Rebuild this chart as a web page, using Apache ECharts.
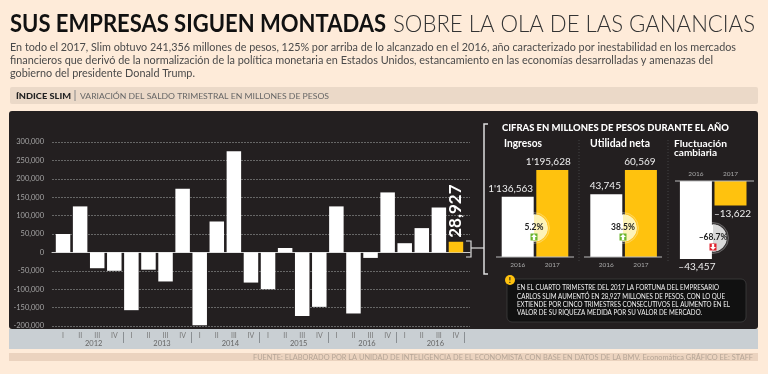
<!DOCTYPE html>
<html>
<head>
<meta charset="utf-8">
<style>
  html, body { margin: 0; padding: 0; background: #feebd9; }
  #main { width: 768px; height: 374px; }
</style>
<script src="https://cdn.jsdelivr.net/npm/echarts@6/dist/echarts.min.js"></script>
</head>
<body>
<div id="main"></div>
<script>
var quarters = ['I', 'II', 'III', 'IV', 'I', 'II', 'III', 'IV', 'I', 'II', 'III', 'IV', 'I', 'II', 'III', 'IV', 'I', 'II', 'III', 'IV', 'I', 'II', 'III', 'IV']
var years = ['2012', '2013', '2014', '2015', '2016', '2016']
var saldo = [50000, 125000, -43000, -50000, -157000, -47000, -79000, 173000, -198000, 84000, 275000, -82000, -100000, 12000, -173000, -148000, 125000, -166000, -15000, 163000, 25000, 66000, 122000, 28927]

var smallYears = ['2016', '2017']
var ingresos = [1136563, 1195628]
var utilidad = [43745, 60569]
var fluctuacion = [-43457, -13622]

var bodyLines = [
  'En todo el 2017, Slim obtuvo 241,356 millones de pesos, 125% por arriba de lo alcanzado en el 2016, año caracterizado por inestabilidad en los mercados',
  'financieros que derivó de la normalización de la política monetaria en Estados Unidos, estancamiento en las economías desarrolladas y amenazas del',
  'gobierno del presidente Donald Trump.',
]
var bodyWidths = [726, 703, 185]
var noteLines = [
  'EN EL CUARTO TRIMESTRE DEL 2017 LA FORTUNA DEL EMPRESARIO',
  'CARLOS SLIM AUMENTÓ EN 28,927 MILLONES DE PESOS, CON LO QUE',
  'EXTIENDE POR CINCO TRIMESTRES CONSECUTIVOS EL AUMENTO EN EL',
  'VALOR DE SU RIQUEZA MEDIDA POR SU VALOR DE MERCADO.',
]
var noteWidths = [202, 208, 213, 185]

var YELLOW = '#ffc20e'
var FONT = 'Lato'

var measure = document.createElement('canvas').getContext('2d')

function fmt(v) {
  var s = Math.abs(v).toString().replace(/\B(?=(\d{3})+$)/g, ',')
  // el original usa apóstrofo para los millones
  s = s.replace(/^(\d),/, "$1'")
  return (v < 0 ? '–' : '') + s
}

function rect(x, y, w, h, color, z, r) {
  return { type: 'rect', shape: { x: x, y: y, width: w, height: h, r: r || 0 }, style: { fill: color }, z: z, silent: true }
}
// w: ancho que ocupa el texto en el original, se ajusta con scaleX
function text(x, y, str, size, color, weight, extra, w) {
  var el = {
    type: 'text', x: x, y: y, z: 50, silent: true,
    style: Object.assign({ text: str, fontFamily: FONT, fontSize: size, fill: color, fontWeight: weight || 'normal', verticalAlign: 'middle' }, extra || {}),
  }
  if (w) {
    measure.font = (weight || 'normal') + ' ' + size + 'px ' + FONT
    el.scaleX = w / measure.measureText(str).width
  }
  return el
}
function path(points, color, width, dash) {
  return {
    type: 'polyline', z: 50, silent: true, shape: { points: points },
    style: { stroke: color, lineWidth: width || 1, fill: null, lineDash: dash || null },
  }
}
function badge(cx, cy, label, rightColor, iconColor, up) {
  var a = up ? -1 : 1
  var iy = cy + 9
  return [
    { type: 'circle', z: 40, silent: true, shape: { cx: cx, cy: cy, r: 15.5 }, style: { fill: 'rgba(255,255,255,0.12)', stroke: 'rgba(255,255,255,0.5)', lineWidth: 0.5 } },
    { type: 'circle', z: 41, silent: true, shape: { cx: cx, cy: cy, r: 13.5 }, style: { fill: '#fff' } },
    { type: 'sector', z: 42, silent: true, shape: { cx: cx, cy: cy, r: 13.5, r0: 0, startAngle: -Math.PI / 2, endAngle: Math.PI / 2 }, style: { fill: rightColor } },
    rect(cx - 3.5, iy - 3.5, 7, 7, iconColor, 43),
    { type: 'polygon', z: 44, silent: true, shape: { points: [[cx, iy + a * 3], [cx + 3, iy], [cx + 1.2, iy], [cx + 1.2, iy - a * 3], [cx - 1.2, iy - a * 3], [cx - 1.2, iy], [cx - 3, iy]] }, style: { fill: '#fff' } },
    text(cx, cy - 1, label, 8.5, '#222', 'bold', { align: 'center' }),
  ]
}

var background = [
  rect(10, 87, 748, 17, '#ebd9c8', -10, 2),
  rect(9, 111, 749, 218, '#231f20', -10, 3),
  rect(9, 329, 749, 20, '#c9cfd3', -10),
  rect(9, 353, 749, 8, '#ebd3bf', -10),
]

var overlay = [
  text(10, 24, 'SUS EMPRESAS SIGUEN MONTADAS', 24, '#111', 'bold', null, 376),
  text(393, 24, 'SOBRE LA OLA DE LAS GANANCIAS', 24, '#333', 300, null, 362),
  text(16, 96, 'ÍNDICE SLIM', 8, '#222', 900, null, 55),
  path([[75, 90], [75, 101]], '#888'),
  text(80, 96, 'VARIACIÓN DEL SALDO TRIMESTRAL EN MILLONES DE PESOS', 8, '#666', 'normal', null, 249),
  text(253, 357, 'FUENTE: ELABORADO POR LA UNIDAD DE INTELIGENCIA DE EL ECONOMISTA CON BASE EN DATOS DE LA BMV. Economática GRÁFICO EE: STAFF', 8, '#b5a596', 'normal', null, 500),

  // corchetes
  path([[466, 241], [471, 241], [471, 257], [466, 257]], '#ddd', 1.2),
  path([[471, 248], [484, 248]], '#ddd', 1.2),
  path([[488, 124], [484, 124], [484, 274], [488, 274]], '#ddd', 1.5),

  text(502, 128, 'CIFRAS EN MILLONES DE PESOS DURANTE EL AÑO', 9, '#fff', 900, null, 227),
  text(504, 144, 'Ingresos', 10.5, '#fff', 'bold', null, 38),
  text(590, 144, 'Utilidad neta', 10.5, '#fff', 'bold', null, 60),
  text(674, 144, 'Fluctuación', 10, '#fff', 'bold', null, 53),
  text(674, 153, 'cambiaria', 10, '#fff', 'bold', null, 43),
  path([[579, 140], [579, 262]], '#444', 1, [1, 2]),
  path([[668, 140], [668, 262]], '#444', 1, [1, 2]),
  path([[496, 257], [574, 257]], '#bbb'),
  path([[584, 257], [662, 257]], '#bbb'),
  path([[675, 181], [754, 181]], '#bbb'),

  { type: 'rect', z: 40, silent: true, shape: { x: 507, y: 279, width: 239, height: 43, r: 5 }, style: { fill: '#111', stroke: '#444', lineWidth: 0.7 } },
  { type: 'circle', z: 45, silent: true, shape: { cx: 510, cy: 280, r: 5 }, style: { fill: YELLOW } },
  text(510, 280, '!', 8, '#222', 900, { align: 'center' }),
].concat(
  noteLines.map(function (s, i) {
    return text(517, 288 + i * 8.3, s, 7, '#f2f2f2', 'normal', null, noteWidths[i])
  }),
  bodyLines.map(function (s, i) {
    return text(10, 47 + i * 13, s, 11.5, '#4a4a4a', 'normal', null, bodyWidths[i])
  }),
  badge(534, 228, '5.2%', '#fdf3b8', '#6ab42d', true),
  badge(623, 228, '38.5%', '#fdf3b8', '#6ab42d', true),
  badge(713, 238, '–68.7%', '#d9d9d9', '#e0202c', false)
)

function smallGrid(left, top, height) {
  return { left: left, width: 69.2, top: top, height: height }
}
function smallXAxis(grid, pos) {
  return {
    type: 'category', gridIndex: grid, position: pos, data: smallYears,
    axisLine: { show: false }, axisTick: { show: false },
    axisLabel: { color: '#aaa', fontSize: 6.5, fontFamily: FONT, margin: 4 },
  }
}
function smallYAxis(grid, min, max) {
  return { type: 'value', gridIndex: grid, min: min, max: max, show: false, splitLine: { show: false } }
}
function smallSeries(idx, values, offsets, pos) {
  return {
    type: 'bar', xAxisIndex: idx, yAxisIndex: idx, barWidth: 32,
    data: values.map(function (v, i) {
      return {
        value: v,
        itemStyle: { color: i === 0 ? '#fff' : YELLOW },
        label: { offset: offsets[i] },
      }
    }),
    label: {
      show: true, position: pos, distance: 3, color: '#eee', fontSize: 10, fontFamily: FONT,
      formatter: function (p) { return fmt(p.value) },
    },
  }
}

var option = {
  animation: false,
  backgroundColor: '#feebd9',
  grid: [
    { left: 52, width: 418, top: 142, height: 184 },
    { left: 54.5, width: 410, top: 142, height: 184 },
    smallGrid(500.4, 170, 87),
    smallGrid(589, 170, 87),
    smallGrid(678.6, 181, 78),
  ],
  xAxis: [
    {
      type: 'category', gridIndex: 0, data: quarters,
      axisLine: { onZero: true, lineStyle: { color: '#ccc' } },
      axisTick: { show: false }, axisLabel: { show: false },
    },
    {
      type: 'category', gridIndex: 1, data: quarters, position: 'bottom', offset: 6,
      axisLine: { show: false, onZero: false },
      axisTick: {
        show: true, length: 11, lineStyle: { color: '#8a8f93' },
        interval: function (i) { return i > 0 && i % 4 === 0 },
      },
      axisLabel: { interval: 0, color: '#777', fontSize: 7, fontFamily: FONT, margin: 0, verticalAlign: 'top' },
    },
    smallXAxis(2, 'bottom'),
    smallXAxis(3, 'bottom'),
    smallXAxis(4, 'top'),
    {
      type: 'category', gridIndex: 1, data: years, position: 'bottom', offset: 6,
      axisLine: { show: false, onZero: false }, axisTick: { show: false },
      axisLabel: { interval: 0, color: '#666', fontSize: 7.5, fontFamily: FONT, margin: 8, verticalAlign: 'top', padding: [0, 0, 0, 10] },
    },
  ],
  yAxis: [
    {
      type: 'value', gridIndex: 0, min: -200000, max: 300000, interval: 50000,
      axisLine: { show: false }, axisTick: { show: false },
      splitLine: { lineStyle: { color: '#666', width: 1, type: [2, 1] } },
      axisLabel: { color: '#a5a5a5', fontSize: 7.5, fontFamily: FONT, margin: 8, formatter: function (v) { return v.toString().replace(/\B(?=(\d{3})+$)/g, ',') } },
    },
    { type: 'value', gridIndex: 1, min: -200000, max: 300000, show: false, splitLine: { show: false } },
    smallYAxis(2, 1003000, 1195628),
    smallYAxis(3, 0, 60569),
    smallYAxis(4, -43457, 0),
  ],
  series: [
    {
      type: 'bar', xAxisIndex: 1, yAxisIndex: 1, barWidth: 14.5,
      data: saldo.map(function (v, i) {
        var last = i === saldo.length - 1
        return {
          value: v,
          itemStyle: { color: last ? YELLOW : '#fff' },
          label: {
            show: last, position: 'top', rotate: 90, align: 'left', verticalAlign: 'middle', distance: 4,
            color: '#fff', fontSize: 17, fontWeight: 'bold', fontFamily: FONT,
            formatter: function (p) { return fmt(p.value) },
          },
        }
      }),
    },
    smallSeries(2, ingresos, [[-7, 0], [-4, 0]], 'top'),
    smallSeries(3, utilidad, [[-1, 0], [-1, 0]], 'top'),
    smallSeries(4, fluctuacion, [[1, 0], [2, 0]], 'bottom'),
  ],
  graphic: { elements: background.concat(overlay) },
}

var myChart = echarts.init(document.getElementById('main'))
myChart.setOption(option)
</script>
</body>
</html>
